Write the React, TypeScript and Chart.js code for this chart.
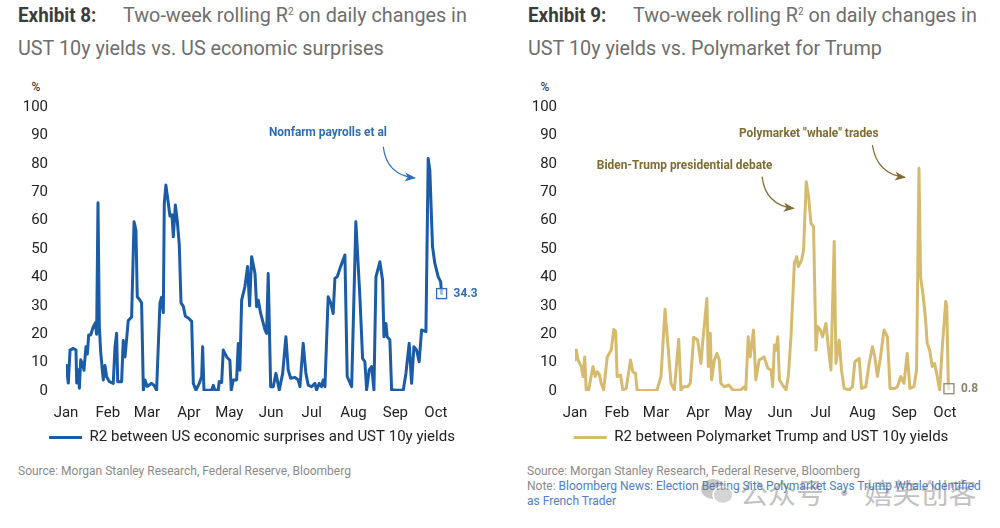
import React, { useEffect, useRef } from "react";
import { Chart, registerables } from "chart.js";

Chart.register(...registerables);

// ---- Data ----
const monthStarts = [0, 31, 60, 91, 121, 152, 182, 213, 244, 274];
const monthLabels = ["Jan", "Feb", "Mar", "Apr", "May", "Jun", "Jul", "Aug", "Sep", "Oct"];
const yTicks = [0, 10, 20, 30, 40, 50, 60, 70, 80, 90, 100];

// Exhibit 8: R2 between US economic surprises and UST 10y yields (day of year 2024, %)
const econDays = [
  0, 0.5, 1.7, 3, 5.4, 7.4, 7.9, 9.1, 9.9, 10.9, 12.3, 13.3, 14.8, 15.8, 16.8, 18.3, 20.2, 21.7, 22.7, 23.7,
  24.7, 25.7, 27.6, 28.9, 30.1, 32.1, 35, 36.3, 37.5, 38.3, 41.2, 42.4, 43.7, 44.9, 46.1, 48.6, 50.4, 51.8,
  52.8, 54.8, 56, 57.3, 58.5, 60.2, 63.4, 65.2, 67.1, 69.6, 70.8, 72.1, 72.8, 74, 75.8, 77, 78.5, 79.5, 81,
  82.4, 83.9, 85.2, 86.9, 88.4, 90.6, 93.1, 94.3, 96.3, 98.7, 100.5, 101.2, 102.2, 107.9, 109.1, 110.3,
  112.8, 113.5, 115.3, 116.5, 119, 121.4, 122.4, 123.9, 126.4, 127.6, 128.8, 130.1, 132.5, 134.5, 136,
  137.5, 140, 141.2, 142.4, 144.2, 147.4, 148.6, 149.8, 151.6, 153.5, 155.5, 158, 160.5, 162.9, 164.6,
  166.4, 169.6, 172, 173.3, 175.7, 177.7, 179.4, 181.9, 184.4, 185.6, 187.6, 189.3, 190.5, 191.8, 194.2,
  196.2, 197.9, 199.2, 200.9, 203.4, 206.6, 208.3, 211.6, 214.7, 217.7, 219.7, 221.4, 222.7, 224.6, 226.4,
  228.1, 229.6, 232.5, 234.5, 235.5, 237, 237.9, 239.9, 241.2, 244.9, 249.8, 251.8, 254.2, 256, 257.7,
  259.7, 261.6, 263.4, 266.6, 268.3, 269.5, 271.5, 273.2, 275.7, 277.5, 278.2,
];
const econR2 = [
  9, 8, 2.8, 14.4, 15, 14.4, 2.8, 7.5, 1, 11, 9.5, 7.3, 15.6, 13, 19.7, 19.7, 22.6, 24, 20, 66.3,
  22.6, 13.7, 3.9, 9, 5, 3.3, 2.7, 15.6, 20.3, 3.3, 3.3, 17.8, 12, 18.3, 24.8, 26, 59.6, 56.7,
  33.2, 32, 31, 0.3, 3.9, 1.6, 2.7, 2, 0.3, 31, 33, 27.6, 66, 72.5, 66, 61.6, 62, 54.3, 65.5,
  60, 51.6, 31, 29.8, 26.3, 25.7, 24.5, 2.7, 0.3, 2.7, 5, 15.6, 0.3, 0.3, 2, 0.3,
  0.3, 3.3, 3, 14.4, 12, 10.8, 0.3, 3.9, 3.9, 16.7, 7.3, 32, 36.7, 43.8, 30,
  47.3, 41.4, 29.7, 32, 27.3, 21.5, 20.3, 41.4, 1.5, 1.5, 6.2, 0.4, 6.2, 19.1, 7.4,
  4.5, 4.8, 3.9, 1.5, 16.8, 6.2, 2.1, 1.5, 2.7, 0.4, 2.7, 1.5, 3.9, 1.5, 33.2,
  30.9, 27.3, 39.7, 40.2, 43.8, 47.9, 5.1, 1.5, 59.6, 33.2, 11.5, 10.3, 0.4, 7.4, 8.6,
  0.4, 40.2, 45.5, 39, 19.1, 23.8, 19.1, 18, 0.4, 0.3, 0.3, 6.2, 16.8, 2.7, 15.6,
  14.4, 10.3, 21.5, 20.9, 81.9, 77.8, 50.8, 45, 40.2, 38.5, 34.3,
];

// Exhibit 9: R2 between Polymarket Trump and UST 10y yields (day of year 2024, %)
const polyDays = [
  0, 1, 2.2, 4.7, 5.9, 7.2, 8.3, 10.1, 13.3, 15, 16.5, 18.2, 19.4, 21.2, 23.9, 26.8, 28.8, 30.1, 31.2,
  33.7, 35.4, 37.9, 41.1, 42.8, 44.8, 46, 49, 53.9, 57.6, 60.8, 63.7, 66.7, 68.7, 71.1, 73.6, 76.8, 78.5,
  80.5, 83.4, 85.4, 87.9, 90.8, 93.3, 94.5, 97.7, 98.7, 100.2, 101.2, 103.2, 105.1, 106.9, 108, 110.6,
  114.2, 116.7, 120.4, 122.8, 125.3, 126.5, 128.3, 129.8, 132.2, 133.9, 136.4, 140.1, 142.8, 145.3, 146.4,
  147.7, 149, 150.2, 151.4, 153.8, 156.3, 158, 160, 162.5, 164.2, 165.4, 167.9, 169.3, 171.3, 173, 174.8,
  176.7, 178.5, 179.7, 181.7, 183.4, 185.9, 187.6, 189.6, 192, 193.3, 195.7, 197.4, 199.4, 203.1, 205.5,
  207.3, 210.5, 212.2, 215.4, 217.9, 220.3, 222.1, 224, 226, 228.9, 231.4, 233.4, 236.8, 238.8, 241.3,
  243.7, 246.1, 248.1, 251.1, 253, 254.8, 256, 258, 259.7, 260.9, 262.7, 264.6, 266.4, 267.9, 270.1,
  272.1, 274.6, 275.4, 276.6, 277,
];
const polyR2 = [
  10.9, 14.4, 10.9, 8.6, 5.1, 12, 0.4, 0.4, 8.6, 5.1, 6.8, 5.6, 2.7, 0.4, 12, 14.4, 21.7, 21, 5.1,
  5.6, 0.4, 0.9, 10.9, 6.8, 6.2, 0.4, 0.1, 0.2, 0.2, 0.4, 5.1, 28.8, 16.8, 2.7, 0.4, 18.2, 0.4,
  1.5, 1.5, 2.7, 18.9, 18, 9.7, 16.8, 32.6, 8.6, 20.3, 3.9, 10.9, 13.2, 10.9, 2.7, 1.5,
  2.1, 0.4, 0.3, 0.4, 1.5, 0.4, 19.1, 12, 21.5, 3.9, 10.9, 12, 8, 7.4, 1.5,
  16.2, 14.4, 19.1, 3.9, 2.1, 0.4, 5.1, 19.1, 45, 47.3, 43.8, 46.2, 49.7, 73.7, 68.5, 59,
  57.9, 14.4, 22.7, 21.5, 19.1, 23.8, 15.6, 7.4, 52.6, 9.7, 17.9, 7.4, 0.9, 0.4, 1.5,
  10.3, 11.5, 0.9, 1.5, 9.7, 15.6, 12, 5.1, 10.9, 21.5, 19.1, 0.9, 0.9, 1.5, 5.1,
  2.7, 13.2, 0.9, 1.5, 7.4, 78.4, 40.2, 33.2, 25, 16.8, 14.4, 8.6, 9.7, 6.2, 0.4,
  15.6, 31.5, 29.7, 0.9, 0.8,
];

type Annotation = { text: string; at: [number, number]; arrow: [number, number][] };

const econAnnotations: Annotation[] = [
  { text: "Nonfarm payrolls et al", at: [194, 91], arrow: [[235, 86], [237.5, 76], [258.4, 75]] },
];
const polyAnnotations: Annotation[] = [
  { text: 'Polymarket "whale" trades', at: [173.2, 90.8], arrow: [[220.3, 86.6], [223.5, 76.5], [244.4, 75.2]] },
  { text: "Biden-Trump presidential debate", at: [81.2, 79.2], arrow: [[138.6, 75.5], [141, 65.5], [162, 64.3]] },
];

type PanelProps = {
  days: number[];
  values: number[];
  label: string;
  color: string;
  annColor: string;
  boxColor: string;
  valueColor: string;
  annotations: Annotation[];
};

function makeAnnotationPlugin(p: PanelProps) {
  return {
    id: "annots",
    afterDatasetsDraw(chart: any) {
      const ctx = chart.ctx as CanvasRenderingContext2D;
      const xs = chart.scales.x;
      const ys = chart.scales.y;
      ctx.save();
      for (const a of p.annotations) {
        const px = xs.getPixelForValue(a.at[0]);
        const py = ys.getPixelForValue(a.at[1]);
        ctx.save();
        ctx.translate(px, py);
        ctx.scale(0.88, 1);
        ctx.font = "bold 13.5px Roboto";
        ctx.fillStyle = p.annColor;
        ctx.textAlign = "center";
        ctx.textBaseline = "middle";
        ctx.fillText(a.text, 0, 0);
        ctx.restore();
        const pts = a.arrow.map((q) => [xs.getPixelForValue(q[0]), ys.getPixelForValue(q[1])]);
        const [s, c, e] = pts;
        ctx.beginPath();
        ctx.moveTo(s[0], s[1]);
        ctx.quadraticCurveTo(c[0], c[1], e[0], e[1]);
        ctx.strokeStyle = p.annColor;
        ctx.lineWidth = 1.2;
        ctx.stroke();
        const ang = Math.atan2(e[1] - c[1], e[0] - c[0]);
        const L = 10, W = 4.5;
        const bx = e[0] - L * Math.cos(ang), by = e[1] - L * Math.sin(ang);
        ctx.beginPath();
        ctx.moveTo(e[0] + 1, e[1]);
        ctx.lineTo(bx + W * Math.sin(ang), by - W * Math.cos(ang));
        ctx.lineTo(bx + 3 * Math.cos(ang), by + 3 * Math.sin(ang));
        ctx.lineTo(bx - W * Math.sin(ang), by + W * Math.cos(ang));
        ctx.closePath();
        ctx.fillStyle = p.annColor;
        ctx.fill();
      }
      const meta = chart.getDatasetMeta(0);
      const last = meta.data[meta.data.length - 1];
      ctx.fillStyle = "rgba(255,255,255,0.6)";
      ctx.fillRect(last.x - 5, last.y - 5, 10, 10);
      ctx.strokeStyle = p.boxColor;
      ctx.lineWidth = 1.3;
      ctx.strokeRect(last.x - 5, last.y - 5, 10, 10);
      ctx.save();
      ctx.translate(last.x + 12, last.y);
      ctx.scale(0.88, 1);
      ctx.font = "bold 13.5px Roboto";
      ctx.fillStyle = p.valueColor;
      ctx.textAlign = "left";
      ctx.textBaseline = "middle";
      ctx.fillText(p.values[p.values.length - 1].toFixed(1), 0, 0);
      ctx.restore();
      ctx.restore();
    },
  };
}

function Panel(p: PanelProps) {
  const ref = useRef<HTMLCanvasElement>(null);
  useEffect(() => {
    if (!ref.current) return;
    const chart = new Chart(ref.current, {
      type: "line",
      data: {
        datasets: [
          {
            label: p.label,
            data: p.days.map((d, i) => ({ x: d, y: p.values[i] })),
            borderColor: p.color,
            backgroundColor: p.color,
            borderWidth: 3,
            pointRadius: 0,
            tension: 0,
            borderJoinStyle: "round",
            borderCapStyle: "round",
          },
        ],
      },
      options: {
        animation: false,
        responsive: false,
        events: [],
        layout: { padding: { left: 4, right: 0, top: 32, bottom: 0 } },
        scales: {
          x: {
            type: "linear",
            min: 0,
            max: 280,
            grid: { display: false, drawTicks: false },
            border: { display: false },
            afterFit: (s: any) => {
              s.height = 33;
            },
            afterBuildTicks: (s: any) => {
              s.ticks = monthStarts.map((v) => ({ value: v }));
            },
            ticks: {
              autoSkip: false,
              maxRotation: 0,
              padding: 13,
              color: "#222",
              font: { size: 15, family: "Roboto" },
              callback: (v: any) => monthLabels[monthStarts.indexOf(Number(v))] ?? "",
            },
          },
          y: {
            min: 0,
            max: 100,
            grid: { display: false, drawTicks: false },
            border: { display: false },
            afterFit: (s: any) => {
              s.width = 62;
            },
            afterBuildTicks: (s: any) => {
              s.ticks = yTicks.map((v) => ({ value: v }));
            },
            ticks: {
              padding: 18,
              color: "#222",
              font: { size: 15, family: "Roboto" },
            },
          },
          yRight: {
            position: "right",
            min: 0,
            max: 100,
            grid: { display: false, drawTicks: false },
            border: { display: false },
            ticks: { display: false },
            afterFit: (s: any) => {
              s.width = 56;
            },
          },
        },
        plugins: {
          tooltip: { enabled: false },
          legend: {
            position: "bottom",
            labels: {
              boxWidth: 33,
              boxHeight: 3,
              padding: 6,
              color: "#222",
              font: { size: 15, family: "Roboto" },
              generateLabels: () => [
                {
                  text: p.label,
                  fillStyle: p.color,
                  strokeStyle: p.color,
                  lineWidth: 0,
                  hidden: false,
                  datasetIndex: 0,
                  fontColor: "#222",
                } as any,
              ],
            },
          },
        },
      },
      plugins: [makeAnnotationPlugin(p)],
    } as any);
    return () => chart.destroy();
  }, []);
  return <canvas ref={ref} width={500} height={380} style={{ display: "block", width: 500, height: 380 }} />;
}

const titleStyle: React.CSSProperties = {
  position: "absolute",
  top: 1,
  fontFamily: "Roboto",
  fontSize: 19.8,
  lineHeight: "30px",
  color: "#6e6e6e",
  whiteSpace: "nowrap",
};
const boldStyle: React.CSSProperties = {
  fontWeight: 700,
  color: "#3c3c3c",
  display: "inline-block",
  transform: "scaleX(0.95)",
  transformOrigin: "left center",
};
const sup = <span style={{ fontSize: 10, position: "relative", top: -7 }}>2</span>;
const pctStyle: React.CSSProperties = {
  position: "absolute",
  top: 79,
  fontFamily: "Roboto",
  fontSize: 12,
  lineHeight: "16px",
  color: "#222",
  width: 20,
  textAlign: "center",
};
const srcStyle: React.CSSProperties = {
  position: "absolute",
  fontFamily: "Roboto",
  fontSize: 12,
  lineHeight: "15px",
  color: "#8a8a8a",
  whiteSpace: "nowrap",
};

export default function App() {
  return (
    <div style={{ position: "absolute", left: 0, top: 0, width: 1000, height: 528, background: "#fff", overflow: "hidden" }}>
      <div style={{ ...titleStyle, left: 18 }}>
        <span style={{ width: 105, display: "inline-block" }}>
          <span style={boldStyle}>Exhibit 8:</span>
        </span>
        Two-week rolling R{sup} on daily changes in
        <br />
        UST 10y yields vs. US economic surprises
      </div>
      <div style={{ ...titleStyle, left: 528 }}>
        <span style={{ width: 105, display: "inline-block" }}>
          <span style={boldStyle}>Exhibit 9:</span>
        </span>
        Two-week rolling R{sup} on daily changes in
        <br />
        UST 10y yields vs. Polymarket for Trump
      </div>

      <div style={{ ...pctStyle, left: 26 }}>%</div>
      <div style={{ ...pctStyle, left: 535 }}>%</div>

      <div style={{ position: "absolute", left: 0, top: 75 }}>
        <Panel
          days={econDays}
          values={econR2}
          label="R2 between US economic surprises and UST 10y yields"
          color="#1b5ca7"
          annColor="#2d6db6"
          boxColor="#2d6db6"
          valueColor="#2d6db6"
          annotations={econAnnotations}
        />
      </div>
      <div style={{ position: "absolute", left: 509, top: 75 }}>
        <Panel
          days={polyDays}
          values={polyR2}
          label="R2 between Polymarket Trump and UST 10y yields"
          color="#d6bb6f"
          annColor="#7e6c30"
          boxColor="#8f8a75"
          valueColor="#8a826a"
          annotations={polyAnnotations}
        />
      </div>

      <div style={{ ...srcStyle, left: 18, top: 464 }}>Source: Morgan Stanley Research, Federal Reserve, Bloomberg</div>
      <div style={{ ...srcStyle, left: 527, top: 464 }}>
        Source: Morgan Stanley Research, Federal Reserve, Bloomberg
        <br />
        Note: <span style={{ color: "#4f7ec6" }}>Bloomberg News: Election Betting Site Polymarket Says Trump Whale Identified</span>
        <br />
        <span style={{ color: "#4f7ec6" }}>as French Trader</span>
      </div>

      <div
        style={{
          position: "absolute",
          left: 700,
          top: 472,
          display: "flex",
          alignItems: "center",
          gap: 6,
          opacity: 0.4,
          pointerEvents: "none",
        }}
      >
        <svg width="34" height="30" viewBox="0 0 34 30">
          <ellipse cx="13" cy="12" rx="12" ry="10" fill="#777" />
          <ellipse cx="23" cy="18" rx="10" ry="8.5" fill="#999" stroke="#fff" strokeWidth="1.5" />
        </svg>
        <span style={{ fontFamily: "'Noto Sans CJK SC'", fontSize: 28, color: "#666", whiteSpace: "nowrap" }}>
          公众号 · 嬉笑创客
        </span>
      </div>
    </div>
  );
}
